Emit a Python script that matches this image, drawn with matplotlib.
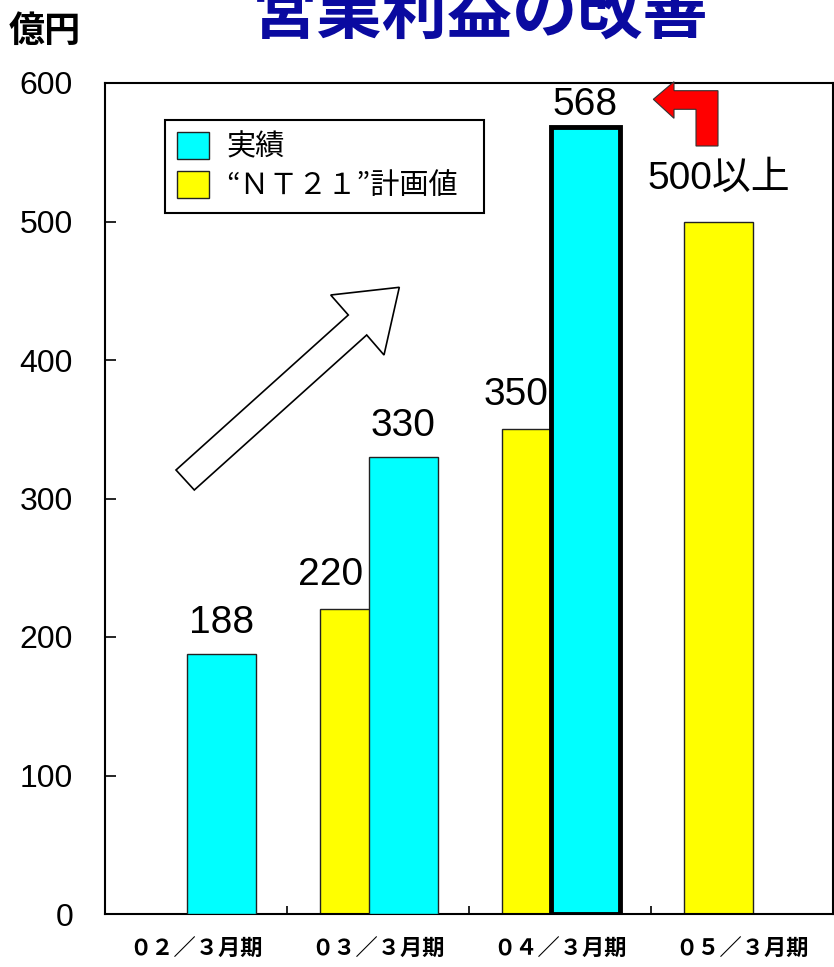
import numpy as np
import matplotlib
matplotlib.use("Agg")
import matplotlib.pyplot as plt
from matplotlib.patches import Polygon

# ---- data ----
categories = ["０２／３月期", "０３／３月期", "０４／３月期", "０５／３月期"]
actual = [188, 330, 568, np.nan]
plan = [np.nan, 220, 350, 500]
actual_labels = ["188", "330", "568", ""]
plan_labels = ["", "220", "350", "500以上"]
yticks = [0, 100, 200, 300, 400, 500, 600]
legend_labels = ["実績", "“ＮＴ２１”計画値"]
title = "営業利益の改善"
unit = "億円"

W, H = 834, 967
fig = plt.figure(figsize=(W / 100, H / 100), dpi=100)
ax = fig.add_axes([105 / W, (H - 914) / H, 728 / W, 831 / H])

CYAN = "#00FFFF"
YEL = "#FFFF00"
x = np.arange(len(categories))
bw = 0.38
off_plan = -0.13
off_act = 0.14

bp = ax.bar(x + off_plan, plan, bw, color=YEL, edgecolor="#222222", linewidth=1.0, zorder=2)
ba = ax.bar(x + off_act, actual, bw, color=CYAN, edgecolor="#222222", linewidth=1.0, zorder=3)
# highlight latest actual bar
ba[2].set_linewidth(3.5)
ba[2].set_edgecolor("black")

ax.set_xlim(-0.5, 3.5)
ax.set_ylim(0, 600)
ax.set_yticks(yticks)
ax.set_yticklabels([str(v) for v in yticks], fontsize=23, family=["Liberation Sans", "DejaVu Sans"])
ax.tick_params(axis="y", direction="in", length=8, width=1.2, pad=23)
ax.set_xticks(x)
ax.set_xticklabels(categories, fontsize=16, fontweight="bold", family=["Noto Sans CJK JP", "DejaVu Sans"])
ax.tick_params(axis="x", which="major", length=0, pad=17)
ax.set_xticks([0.5, 1.5, 2.5], minor=True)
ax.tick_params(axis="x", which="minor", direction="in", length=6, width=1.2)
for s in ax.spines.values():
    s.set_linewidth(1.5)
    s.set_color("black")

lab_font = ["Liberation Sans", "Noto Sans CJK JP"]
# value labels
act_off = [(0, 22), (0, 22), (0, 16), (0, 0)]
plan_off = [(0, 0), (-17, 25), (-15, 25), (0, 31)]
for i in range(len(categories)):
    if actual_labels[i]:
        ax.annotate(actual_labels[i], xy=(x[i] + off_act, actual[i]), xytext=act_off[i],
                    textcoords="offset points", ha="center", va="center",
                    fontsize=28, family=lab_font, zorder=2.5)
    if plan_labels[i]:
        ax.annotate(plan_labels[i], xy=(x[i] + off_plan, plan[i]), xytext=plan_off[i],
                    textcoords="offset points", ha="center", va="center",
                    fontsize=28, family=lab_font, zorder=2.5)

# legend
lx0 = (165 - 105) / 728
lx1 = (484 - 105) / 728
ltop = (914 - 120) / 831
leg = ax.legend([ba[0], bp[1]], legend_labels, loc="upper left",
                bbox_to_anchor=(lx0, ltop - 0.2, lx1 - lx0, 0.2), mode="expand",
                prop={"family": ["Noto Sans CJK JP", "DejaVu Sans"], "size": 21},
                fancybox=False, edgecolor="black", framealpha=1,
                handlelength=1.1, handleheight=1.05, handletextpad=0.6,
                borderpad=0.4, labelspacing=0.3, borderaxespad=0)
leg.get_frame().set_linewidth(1.5)
leg.set_zorder(5)

def fig_poly(pts, **kw):
    p = [(px / W, 1 - py / H) for px, py in pts]
    fig.add_artist(Polygon(p, closed=True, transform=fig.transFigure, **kw))

# hollow growth arrow
fig_poly([(176, 470), (348.3, 315), (330.7, 295), (399.3, 287.3),
          (384, 355), (366.7, 335), (194.3, 490)],
         facecolor="white", edgecolor="black", linewidth=1.2, zorder=6)
# red elbow arrow
fig_poly([(653.3, 99.3), (674, 81.7), (674, 90.7), (718, 90.7), (718, 146),
          (696, 146), (696, 109.3), (674, 109.3), (674, 118.3)],
         facecolor="#FF0000", edgecolor="#333333", linewidth=0.8, zorder=6)

fig.text(480 / W, 1 - 14 / H, title, ha="center", va="center", fontsize=47,
         fontweight="bold", color="#0A0AA0", family=["Noto Sans CJK JP", "DejaVu Sans"])
fig.text(45 / W, 1 - 31 / H, unit, ha="center", va="center", fontsize=26,
         fontweight="bold", color="black", family=["Noto Sans CJK JP", "DejaVu Sans"])

fig.savefig("out.png", dpi=100)
